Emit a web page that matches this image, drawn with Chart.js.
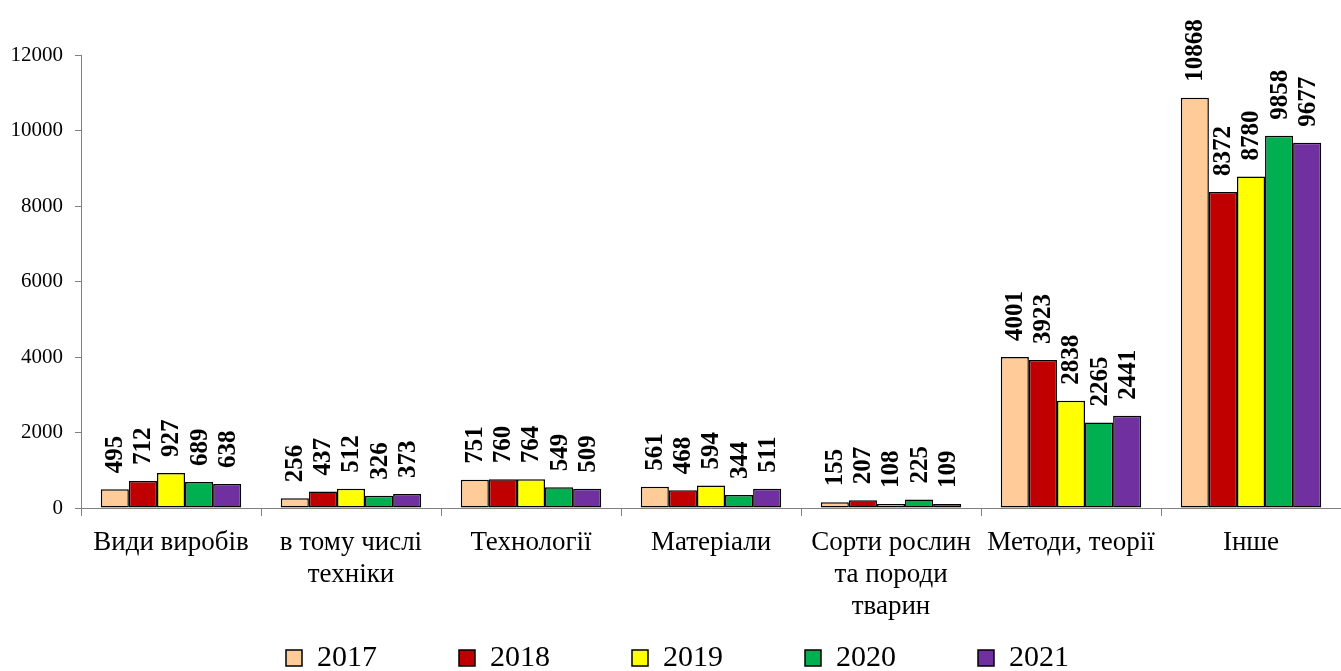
<!DOCTYPE html>
<html>
<head>
<meta charset="utf-8">
<script src="https://cdn.jsdelivr.net/npm/chart.js@4.4.1/dist/chart.umd.min.js"></script>
<style>
  html, body { margin: 0; padding: 0; background: #ffffff; }
  #wrap { width: 1341px; height: 671px; position: relative; }
</style>
</head>
<body>
<div id="wrap"><canvas id="c" width="1341" height="671"></canvas></div>
<script>
const categories = [
  'Види виробів',
  ['в тому числі', 'техніки'],
  'Технології',
  'Матеріали',
  ['Сорти рослин', 'та породи', 'тварин'],
  'Методи, теорії',
  'Інше'
];
const seriesNames = ['2017', '2018', '2019', '2020', '2021'];
const values2017 = [495, 256, 751, 561, 155, 4001, 10868];
const values2018 = [712, 437, 760, 468, 207, 3923, 8372];
const values2019 = [927, 512, 764, 594, 108, 2838, 8780];
const values2020 = [689, 326, 549, 344, 225, 2265, 9858];
const values2021 = [638, 373, 509, 511, 109, 2441, 9677];
const yTicks = [0, 2000, 4000, 6000, 8000, 10000, 12000];
const colors = ['#FFCC99', '#C00000', '#FFFF00', '#00B050', '#7030A0'];

const allValues = [values2017, values2018, values2019, values2020, values2021];
const datasets = seriesNames.map((name, i) => ({
  label: name,
  data: allValues[i],
  backgroundColor: colors[i],
  borderColor: '#000000',
  borderWidth: 1.5,
  borderSkipped: false,
  categoryPercentage: 0.78,
  barPercentage: 1.0
}));

const SERIF = '"Liberation Serif", "Times New Roman", serif';
const LEGEND_PAD = 82;

const valueLabels = {
  id: 'valueLabels',
  afterDatasetsDraw(chart) {
    const ctx = chart.ctx;
    ctx.save();
    ctx.font = 'bold 25px ' + SERIF;
    ctx.fillStyle = '#000000';
    ctx.textAlign = 'left';
    ctx.textBaseline = 'middle';
    chart.data.datasets.forEach((ds, di) => {
      const meta = chart.getDatasetMeta(di);
      meta.data.forEach((bar, i) => {
        ctx.save();
        ctx.translate(bar.x + 1, bar.y - 16);
        ctx.rotate(-Math.PI / 2);
        ctx.fillText(String(ds.data[i]), 0, 0);
        ctx.restore();
      });
    });
    ctx.restore();
  }
};

const legendPlacer = {
  id: 'legendPlacer',
  afterLayout(chart) {
    const lg = chart.legend;
    if (!lg) return;
    lg.top = 643 - LEGEND_PAD;
    lg.left += 7;
    lg.right += 7;
  }
};

new Chart(document.getElementById('c'), {
  type: 'bar',
  data: { labels: categories, datasets: datasets },
  options: {
    responsive: false,
    animation: false,
    devicePixelRatio: 1,
    layout: { padding: { top: 55, left: 0, right: 0, bottom: 0 } },
    plugins: {
      tooltip: { enabled: false },
      legend: {
        position: 'bottom',
        align: 'center',
        maxHeight: 50,
        labels: {
          color: '#000000',
          boxWidth: 16,
          boxHeight: 16,
          padding: LEGEND_PAD,
          font: { family: SERIF, size: 30 }
        }
      }
    },
    scales: {
      x: {
        grid: { display: true, drawOnChartArea: false, offset: true, tickLength: 8, color: '#808080', lineWidth: 1 },
        border: { display: true, color: '#808080', width: 1 },
        ticks: {
          color: '#000000',
          padding: 11,
          maxRotation: 0,
          autoSkip: false,
          font: { family: SERIF, size: 27, lineHeight: 1.185 }
        },
        afterFit(scale) { scale.height = 113; }
      },
      y: {
        min: 0,
        max: 12000,
        afterBuildTicks(scale) { scale.ticks = yTicks.map(v => ({ value: v })); },
        grid: { display: true, drawOnChartArea: false, tickLength: 6, color: '#808080', lineWidth: 1 },
        border: { display: true, color: '#808080', width: 1 },
        ticks: {
          color: '#000000',
          padding: 12,
          font: { family: SERIF, size: 21 },
          callback: (v) => String(v)
        },
        afterFit(scale) { scale.width = 81; }
      }
    }
  },
  plugins: [valueLabels, legendPlacer]
});
</script>
</body>
</html>
